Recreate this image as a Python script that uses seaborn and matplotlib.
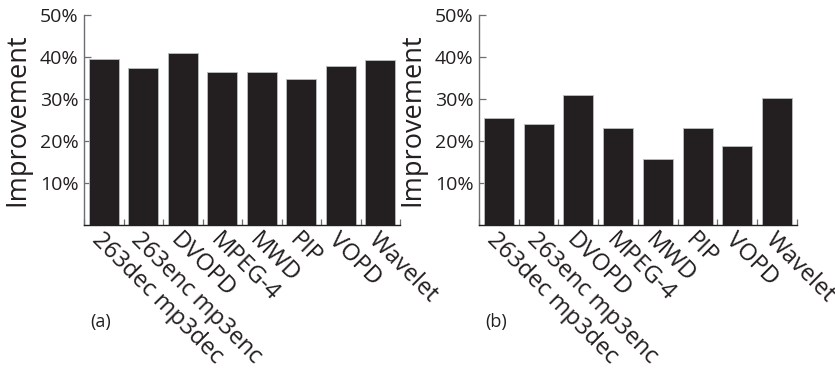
import numpy as np
import pandas as pd
import matplotlib
matplotlib.use("Agg")
import matplotlib.pyplot as plt
import seaborn as sns
from matplotlib.ticker import FuncFormatter, FixedLocator

# Datos
benchmarks = ["263dec mp3dec", "263enc mp3enc", "DVOPD", "MPEG-4",
              "MWD", "PIP", "VOPD", "Wavelet"]
mejora_a = [39.5, 37.5, 41.0, 36.4, 36.5, 34.8, 37.8, 39.2]
mejora_b = [25.4, 24.1, 30.9, 23.0, 15.6, 23.0, 18.8, 30.3]
paneles = ["(a)", "(b)"]

sns.set_style("white")
plt.rcParams['font.family'] = ['Open Sans', 'DejaVu Sans']

NEGRO = "#231f20"
GRIS = "#6d6e71"

fig = plt.figure(figsize=(8.35, 3.72), dpi=100)
ax_a = fig.add_axes([84 / 835, 147 / 372, 316 / 835, 210 / 372])
ax_b = fig.add_axes([479 / 835, 147 / 372, 318 / 835, 210 / 372])

for ax, valores, etiqueta, xlab in [(ax_a, mejora_a, paneles[0], 90),
                                    (ax_b, mejora_b, paneles[1], 485)]:
    df = pd.DataFrame({"bench": benchmarks, "mejora": valores})
    sns.barplot(data=df, x="bench", y="mejora", color=NEGRO, saturation=1,
                width=0.75, edgecolor="#bcbec0", linewidth=0.6, ax=ax)
    ax.set_xlim(-0.5, len(benchmarks) - 0.5)
    ax.set_ylim(0, 50)
    ax.set_yticks([10, 20, 30, 40, 50])
    ax.yaxis.set_major_formatter(FuncFormatter(lambda v, pos: f"{v:.0f}%"))
    ax.tick_params(axis="y", direction="in", length=5, width=0.9, color=GRIS,
                   labelsize=14, labelcolor=NEGRO, pad=4, left=True)
    ax.xaxis.set_minor_locator(FixedLocator(np.arange(-0.5, len(benchmarks), 1.0)))
    ax.tick_params(axis="x", which="minor", direction="in", length=4, width=0.9,
                   color=GRIS, bottom=True)
    ax.tick_params(axis="x", which="major", length=0, pad=2)
    ax.set_xticks(range(len(benchmarks)))
    ax.set_xticklabels(benchmarks, rotation=-45, ha="left", va="top",
                       rotation_mode="anchor", fontsize=17, color=NEGRO)
    ax.set_xlabel("")
    ax.set_ylabel("Improvement", fontsize=19.5, color=NEGRO, labelpad=6)
    for lado in ["top", "right"]:
        ax.spines[lado].set_visible(False)
    ax.spines["left"].set_color(GRIS)
    ax.spines["left"].set_linewidth(1.0)
    ax.spines["bottom"].set_color(NEGRO)
    ax.spines["bottom"].set_linewidth(1.0)
    fig.text(xlab / 835, 1 - 322 / 372, etiqueta, fontsize=13, color=NEGRO,
             ha="left", va="center")

fig.savefig("out.png", dpi=100)
